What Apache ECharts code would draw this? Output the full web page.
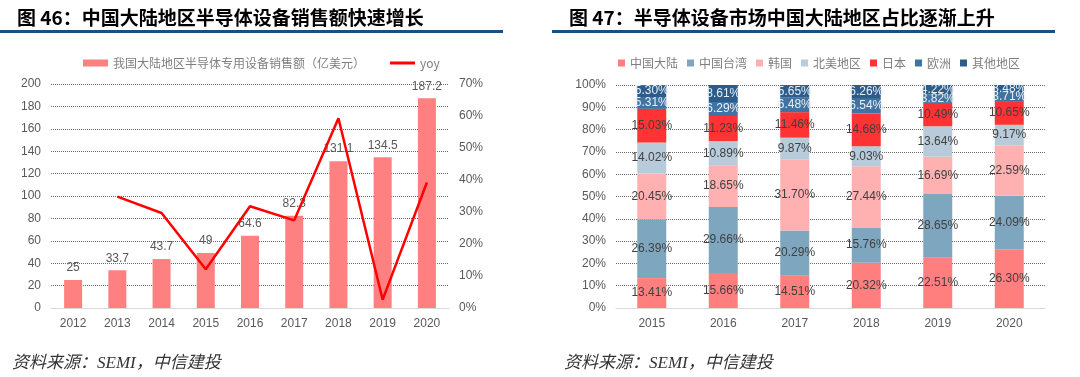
<!DOCTYPE html>
<html>
<head>
<meta charset="utf-8">
<script src="https://cdn.jsdelivr.net/npm/echarts@6/dist/echarts.min.js"></script>
<style>
    html, body { margin: 0; padding: 0; background: #fff; }
    #main { width: 1080px; height: 377px; }
</style>
</head>
<body>
<div id="main"></div>
<script>
// 图46 数据
var years46 = ['2012', '2013', '2014', '2015', '2016', '2017', '2018', '2019', '2020'];
var sales = [25, 33.7, 43.7, 49, 64.6, 82.3, 131.1, 134.5, 187.2];
var yoy = [null, 34.8, 29.7, 12.1, 31.8, 27.4, 59.3, 2.6, 39.2];

// 图47 数据
var years47 = ['2015', '2016', '2017', '2018', '2019', '2020'];
var regions = ['中国大陆', '中国台湾', '韩国', '北美地区', '日本', '欧洲', '其他地区'];
var mainland = [13.41, 15.66, 14.51, 20.32, 22.51, 26.30];
var taiwan = [26.39, 29.66, 20.29, 15.76, 28.65, 24.09];
var korea = [20.45, 18.65, 31.70, 27.44, 16.69, 22.59];
var northAmerica = [14.02, 10.89, 9.87, 9.03, 13.64, 9.17];
var japan = [15.03, 11.23, 11.46, 14.68, 10.49, 10.65];
var europe = [5.31, 6.29, 6.48, 6.54, 3.82, 3.71];
var others = [5.30, 8.61, 5.65, 6.26, 4.22, 3.48];

var regionColors = ['#ff7f7f', '#7fa6bf', '#ffb0b0', '#b8cbdb', '#ff3333', '#3f73a3', '#2b5c8a'];
var regionLabelColors = ['#404040', '#404040', '#404040', '#404040', '#404040', '#e8eef5', '#e8eef5'];
var regionData = [mainland, taiwan, korea, northAmerica, japan, europe, others];

var chart = echarts.init(document.getElementById('main'));
var sansFont = 'Arial, "Liberation Sans", "Noto Sans CJK SC", sans-serif';
var gridLine = { show: true, lineStyle: { color: '#6b6b6b', type: 'dotted', width: 1 } };
var legendText = { color: '#7f7f7f', fontSize: 12, fontFamily: '"Noto Sans CJK SC", sans-serif' };
var sourceStyle = { text: '资料来源：SEMI，中信建投', fontSize: 17, fontStyle: 'italic', fill: '#333', fontFamily: '"Liberation Serif", "Noto Sans CJK SC", serif' };

var stackSeries = regions.map(function (name, i) {
    return {
        name: name,
        type: 'bar',
        stack: 'share',
        xAxisIndex: 1,
        yAxisIndex: 2,
        barWidth: 29,
        data: regionData[i],
        itemStyle: { color: regionColors[i] },
        label: {
            show: true,
            position: 'inside',
            color: regionLabelColors[i],
            fontSize: 12,
            fontFamily: sansFont,
            formatter: function (p) { return p.value.toFixed(2) + '%'; }
        }
    };
});

var option = {
    animation: false,
    title: [
        {
            text: '图 46：中国大陆地区半导体设备销售额快速增长',
            left: 12, top: 3,
            textStyle: { fontSize: 19, fontWeight: 'bold', color: '#000', fontFamily: '"Noto Sans CJK SC", sans-serif' }
        },
        {
            text: '图 47：半导体设备市场中国大陆地区占比逐渐上升',
            left: 564, top: 3,
            textStyle: { fontSize: 19, fontWeight: 'bold', color: '#000', fontFamily: '"Noto Sans CJK SC", sans-serif' }
        }
    ],
    graphic: [
        { type: 'rect', shape: { x: 0, y: 30, width: 503, height: 3 }, style: { fill: '#1b4f80' } },
        { type: 'rect', shape: { x: 552, y: 30, width: 503, height: 3 }, style: { fill: '#1b4f80' } },
        { type: 'text', left: 12, top: 355, style: sourceStyle },
        { type: 'text', left: 564, top: 355, style: sourceStyle }
    ],
    legend: [
        {
            data: [{ name: '我国大陆地区半导体专用设备销售额（亿美元）', icon: 'rect' }],
            left: 78, top: 52,
            itemWidth: 25, itemHeight: 7,
            textStyle: legendText
        },
        {
            data: [{ name: 'yoy', icon: 'rect' }],
            left: 385, top: 52,
            itemWidth: 25, itemHeight: 3,
            textStyle: legendText
        },
        {
            data: regions,
            icon: 'rect',
            left: 613, top: 52,
            itemWidth: 7, itemHeight: 7, itemGap: 9,
            textStyle: legendText
        }
    ],
    grid: [
        { left: 51, right: 631, top: 84, bottom: 69 },
        { left: 616, right: 35, top: 85, bottom: 69 }
    ],
    xAxis: [
        {
            type: 'category', gridIndex: 0, data: years46,
            axisLine: { lineStyle: { color: '#d9d9d9' } },
            axisTick: { show: false },
            axisLabel: { color: '#595959', fontSize: 12, fontFamily: sansFont, margin: 10 }
        },
        {
            type: 'category', gridIndex: 1, data: years47,
            axisLine: { lineStyle: { color: '#d9d9d9' } },
            axisTick: { show: false },
            axisLabel: { color: '#595959', fontSize: 12, fontFamily: sansFont, margin: 10 }
        }
    ],
    yAxis: [
        {
            type: 'value', gridIndex: 0, min: 0, max: 200, interval: 20,
            axisLine: { show: false }, axisTick: { show: false },
            axisLabel: { color: '#595959', fontSize: 12, fontFamily: sansFont, margin: 10 },
            splitLine: gridLine
        },
        {
            type: 'value', gridIndex: 0, min: 0, max: 70, interval: 10, position: 'right',
            axisLine: { show: false }, axisTick: { show: false },
            axisLabel: { color: '#595959', fontSize: 12, fontFamily: sansFont, margin: 10, formatter: '{value}%' },
            splitLine: { show: false }
        },
        {
            type: 'value', gridIndex: 1, min: 0, max: 100, interval: 10,
            axisLine: { show: false }, axisTick: { show: false },
            axisLabel: { color: '#595959', fontSize: 12, fontFamily: sansFont, margin: 10, formatter: '{value}%' },
            splitLine: gridLine
        }
    ],
    series: [
        {
            name: '我国大陆地区半导体专用设备销售额（亿美元）',
            type: 'bar',
            xAxisIndex: 0, yAxisIndex: 0,
            barWidth: 18,
            data: sales,
            itemStyle: { color: '#ff8080' },
            label: { show: true, position: 'top', color: '#595959', fontSize: 12, fontFamily: sansFont, distance: 6 }
        },
        {
            name: 'yoy',
            type: 'line',
            xAxisIndex: 0, yAxisIndex: 1,
            data: yoy,
            symbol: 'none',
            lineStyle: { color: '#ff0000', width: 2.5 },
            itemStyle: { color: '#ff0000' },
            z: 5
        }
    ].concat(stackSeries)
};

chart.setOption(option);
</script>
</body>
</html>
